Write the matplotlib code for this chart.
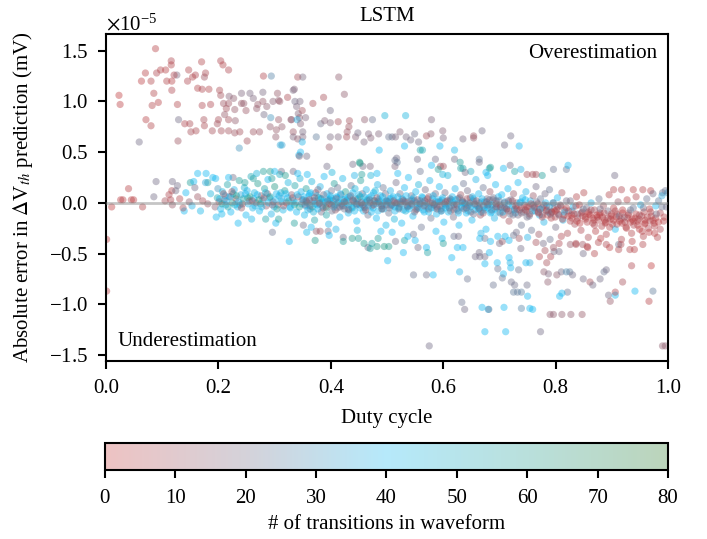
import numpy as np
import matplotlib
matplotlib.use("Agg")
import matplotlib.pyplot as plt
from matplotlib.colors import LinearSegmentedColormap, Normalize
from matplotlib.cm import ScalarMappable
from matplotlib.ticker import ScalarFormatter

plt.rcParams['font.family'] = ['Liberation Serif', 'DejaVu Serif']
plt.rcParams['mathtext.fontset'] = 'stix'
plt.rcParams['font.size'] = 15

# ---- data: (duty cycle, error [1e-5 mV], # transitions) ----
upper_pts = [
(0.023,1.06,2),(0.025,0.97,3),(0.070,1.28,4),(0.063,1.20,3),(0.080,1.20,5),(0.088,1.52,4),(0.090,1.28,6),(0.097,1.31,5),
(0.106,1.31,4),(0.116,1.40,6),(0.116,1.36,5),(0.108,1.20,5),(0.117,1.20,4),(0.117,1.11,6),(0.085,1.08,5),(0.093,0.99,4),
(0.082,0.96,5),(0.071,0.82,4),(0.080,0.76,5),(0.059,0.60,20),(0.126,1.26,18),(0.121,1.26,6),(0.147,1.31,5),(0.145,1.20,6),
(0.154,1.24,5),(0.159,1.26,6),(0.170,1.39,5),(0.177,1.28,7),(0.175,1.24,10),(0.204,1.40,6),(0.208,1.36,5),(0.218,1.31,6),
(0.163,1.13,5),(0.171,1.12,6),(0.183,1.12,5),(0.202,1.11,7),(0.127,0.97,5),(0.171,0.96,6),(0.186,0.97,6),(0.129,0.82,20),
(0.140,0.78,6),(0.149,0.78,7),(0.151,0.70,8),(0.160,0.71,7),(0.174,0.82,8),(0.175,0.76,7),(0.189,0.71,8),(0.128,0.61,10),
(0.200,0.82,8),(0.198,0.78,9),(0.204,1.06,9),(0.209,0.98,10),(0.214,0.93,9),(0.211,0.87,12),(0.218,0.98,10),(0.219,1.05,16),
(0.227,1.03,14),(0.229,0.92,12),(0.230,0.81,13),(0.218,0.82,9),(0.205,0.71,8),(0.218,0.71,9),(0.229,0.69,10),(0.238,0.70,9),
(0.251,0.61,9),(0.241,0.98,12),(0.245,0.98,13),(0.249,0.91,11),(0.241,1.08,18),(0.256,1.08,19),(0.262,1.03,18),(0.268,0.93,13),
(0.270,0.97,12),(0.279,1.09,19),(0.280,1.25,6),(0.294,1.25,26),(0.279,1.00,12),(0.286,0.95,14),(0.281,0.87,20),(0.293,0.84,30),
(0.305,1.08,12),(0.307,1.01,13),(0.297,1.00,15),(0.309,1.00,12),(0.262,0.70,10),(0.273,0.70,11),(0.292,0.75,13),(0.302,0.65,13),
(0.303,0.72,12),(0.307,0.82,11),(0.313,0.75,13),(0.310,0.57,35),(0.313,0.57,34),(0.237,0.54,30),(0.323,1.04,7),(0.333,1.11,19),
(0.341,1.24,8),(0.329,0.82,12),(0.333,0.70,11),(0.333,0.65,18),(0.341,0.63,14),(0.343,0.47,38),(0.339,0.95,18),(0.342,0.88,17),
]

mid_pts = [
(0.350,1.24,19),(0.414,1.24,14),(0.335,1.12,17),(0.336,1.00,20),(0.345,1.00,19),(0.368,0.98,8),(0.387,1.04,8),(0.424,1.07,14),
(0.349,0.91,9),(0.344,0.84,14),(0.330,0.82,15),(0.340,0.82,37),(0.355,0.84,18),(0.399,0.91,20),(0.346,0.78,16),(0.382,0.78,21),
(0.389,0.81,16),(0.399,0.79,17),(0.413,0.80,9),(0.433,0.81,9),(0.432,0.75,10),(0.429,0.70,11),(0.350,0.70,19),(0.350,0.65,18),
(0.374,0.65,24),(0.399,0.65,19),(0.413,0.65,18),(0.428,0.65,9),(0.349,0.60,38),(0.346,0.50,40),(0.344,0.46,16),(0.357,0.46,20),
(0.397,0.55,12),(0.444,0.65,16),(0.448,0.69,20),(0.460,0.82,14),(0.474,0.82,22),(0.467,0.68,18),(0.459,0.60,19),(0.471,0.64,16),
(0.485,0.68,17),(0.496,0.86,45),(0.533,0.86,44),(0.503,0.65,22),(0.509,0.65,22),(0.515,0.65,18),(0.523,0.70,16),(0.534,0.65,19),
(0.542,0.62,20),(0.549,0.68,21),(0.556,0.60,20),(0.531,0.56,40),(0.570,0.66,9),(0.578,0.68,14),(0.579,0.82,18),(0.599,0.71,16),
(0.600,0.64,18),(0.635,0.63,19),(0.654,0.66,10),(0.654,0.64,12),(0.669,0.71,20),(0.486,0.52,40),(0.559,0.52,55),(0.563,0.52,52),
(0.554,0.43,20),(0.594,0.56,40),(0.620,0.52,42),(0.620,0.43,20),(0.586,0.43,20),(0.517,0.44,20),(0.518,0.40,24),(0.514,0.36,18),
(0.579,0.37,40),(0.595,0.36,10),(0.600,0.36,10),(0.591,0.33,58),(0.630,0.40,58),(0.631,0.34,56),(0.635,0.34,55),(0.649,0.31,50),
(0.664,0.43,24),(0.664,0.40,20),(0.676,0.30,40),(0.682,0.34,55),(0.451,0.40,62),(0.457,0.36,20),(0.470,0.36,18),(0.439,0.38,20),
(0.393,0.36,20),(0.720,0.66,20),(0.709,0.57,20),(0.735,0.56,40),(0.684,0.35,58),(0.707,0.34,40),(0.719,0.37,20),(0.727,0.31,55),
(0.738,0.33,38),(0.749,0.28,8),(0.759,0.28,8),(0.765,0.28,9),(0.776,0.27,58),(0.796,0.33,22),(0.819,0.33,22),(0.822,0.37,40),
(0.905,0.27,20),(0.903,0.13,5),(0.917,0.13,6),(0.938,0.13,4),(0.955,0.13,5),(0.969,0.12,4),(0.990,0.10,22),(0.452,0.39,60),
(0.455,0.28,58),(0.514,0.42,22),(0.163,0.29,40),(0.178,0.29,40),(0.226,0.25,20),(0.089,0.21,20),(0.118,0.21,20),(0.127,0.17,20),
(0.150,0.20,58),(0.156,0.21,40),(0.195,0.24,40),(0.181,0.20,58),(0.262,0.24,58),(0.280,0.31,58),(0.292,0.31,60),(0.300,0.31,40),
(0.312,0.31,20),(0.333,0.31,20),(0.040,0.14,4),(0.026,0.03,3),(0.045,0.03,4),(0.117,0.12,5),(0.115,0.03,6),
]

lower_pts = [
(0.010,-0.04,2),(0.001,-0.36,2),(0.001,-0.87,3),(0.030,0.03,4),(0.049,0.03,3),(0.065,-0.04,5),(0.085,0.06,20),(0.139,-0.08,40),
(0.196,-0.14,40),(0.206,-0.11,41),(0.235,-0.20,40),(0.259,-0.16,42),(0.284,-0.16,55),(0.296,-0.29,22),(0.326,-0.38,40),(0.302,-0.20,40),
(0.307,-0.16,58),(0.335,-0.20,58),(0.351,-0.22,20),(0.357,-0.29,42),(0.372,-0.37,60),(0.374,-0.28,14),(0.381,-0.28,10),(0.395,-0.28,20),
(0.397,-0.32,40),(0.422,-0.34,20),(0.422,-0.38,58),(0.438,-0.35,60),(0.449,-0.35,58),(0.459,-0.40,60),(0.466,-0.44,22),(0.470,-0.45,56),
(0.473,-0.40,55),(0.482,-0.43,60),(0.484,-0.35,58),(0.495,-0.43,62),(0.503,-0.43,60),(0.501,-0.57,40),(0.515,-0.38,20),(0.529,-0.49,40),
(0.531,-0.37,55),(0.537,-0.33,40),(0.550,-0.37,40),(0.555,-0.44,20),(0.547,-0.71,22),(0.570,-0.44,40),(0.572,-0.49,56),(0.570,-0.71,21),
(0.582,-0.71,40),(0.575,-1.41,20),(0.598,-0.35,40),(0.600,-0.40,58),(0.615,-0.54,40),(0.619,-0.33,22),(0.625,-0.44,40),(0.635,-0.44,40),
(0.629,-0.68,38),(0.643,-0.75,22),(0.633,-0.98,22),(0.638,-1.05,20),(0.669,-1.03,40),(0.680,-1.05,40),(0.674,-1.27,40),(0.657,-0.53,20),
(0.665,-0.53,20),(0.674,-0.53,20),(0.674,-0.60,40),(0.664,-0.49,20),(0.665,-0.35,40),(0.682,-0.49,40),(0.689,-0.81,22),(0.681,-1.05,22),
(0.711,-1.27,40),(0.708,-1.03,40),(0.696,-0.59,40),(0.697,-0.65,22),(0.707,-0.70,40),(0.705,-0.74,22),(0.717,-0.54,40),(0.719,-0.59,38),
(0.720,-0.64,40),(0.721,-0.78,21),(0.725,-0.88,24),(0.732,-0.88,24),(0.739,-0.88,25),(0.727,-0.81,21),(0.749,-0.81,21),(0.750,-0.92,40),
(0.739,-1.04,26),(0.754,-1.04,40),(0.759,-1.05,40),(0.773,-1.27,20),(0.747,-0.59,40),(0.754,-0.59,36),(0.734,-0.66,22),(0.779,-0.68,14),
(0.784,-0.59,8),(0.787,-0.70,18),(0.786,-0.78,14),(0.802,-0.71,14),(0.810,-0.68,20),(0.819,-0.68,28),(0.825,-0.68,24),(0.830,-0.71,20),
(0.821,-0.88,22),(0.811,-0.89,40),(0.807,-0.92,40),(0.790,-1.10,14),(0.796,-1.10,14),(0.811,-1.10,14),(0.827,-1.10,14),(0.847,-1.10,12),
(0.771,-0.53,6),(0.791,-0.53,6),(0.781,-0.47,8),(0.797,-0.48,20),(0.806,-0.48,20),(0.849,-0.75,20),(0.861,-0.78,8),(0.866,-0.81,20),
(0.879,-0.75,20),(0.886,-0.68,22),(0.890,-0.66,20),(0.894,-0.91,20),(0.897,-0.97,12),(0.906,-0.91,40),(0.906,-0.88,6),(0.919,-0.78,8),
(0.941,-0.87,40),(0.935,-0.62,6),(0.970,-0.62,2),(0.973,-0.87,24),(0.966,-0.97,4),(0.990,-1.41,14),(0.995,-1.41,14),(0.869,-0.50,5),
(0.857,-0.44,6),(0.849,-0.50,20),(0.912,-0.46,5),(0.932,-0.46,5),(0.940,-0.46,4),(0.955,-0.41,5),(0.912,-0.41,22),(0.890,-0.41,6),
(0.880,-0.35,3),(0.848,-0.41,10),(0.836,-0.41,8),(0.826,-0.41,12),(0.806,-0.40,6),(0.796,-0.44,10),(0.778,-0.40,20),(0.765,-0.39,8),
(0.674,-0.35,22),(0.684,-0.38,40),(0.700,-0.40,20),(0.705,-0.38,12),(0.717,-0.37,40),(0.725,-0.32,22),(0.735,-0.35,10),(0.738,-0.45,20),
]

band_left = [
(0.105,0.02,8),(0.112,0.08,6),(0.118,-0.02,12),(0.124,0.12,20),(0.131,0.04,5),(0.137,-0.05,9),(0.142,0.10,40),(0.148,0.01,14),
(0.153,-0.03,38),(0.158,0.15,20),(0.163,0.06,10),(0.168,-0.08,42),(0.172,0.02,8),(0.177,0.20,35),(0.181,-0.01,12),(0.186,0.09,45),
(0.190,0.25,40),(0.194,-0.04,15),(0.198,0.05,55),(0.199,0.14,30),
(0.201,0.01,10),(0.204,-0.06,40),(0.207,0.11,45),(0.210,0.03,8),(0.213,-0.02,38),(0.216,0.18,55),(0.219,0.06,12),(0.222,-0.09,40),
(0.225,0.00,60),(0.228,0.13,38),(0.231,0.04,10),(0.234,-0.04,42),(0.237,0.22,58),(0.240,0.08,35),(0.243,-0.01,9),(0.246,0.15,48),
(0.249,-0.12,40),(0.252,0.05,62),(0.255,0.02,12),(0.258,0.26,52),(0.261,-0.05,38),(0.264,0.10,44),(0.267,0.00,8),(0.270,0.19,60),
(0.273,-0.08,40),(0.276,0.07,14),(0.279,0.03,36),(0.282,0.14,56),(0.285,-0.03,11),(0.288,0.23,40),(0.291,0.05,45),(0.294,-0.11,38),
(0.297,0.01,10),(0.300,0.16,62),(0.303,0.09,40),(0.306,-0.02,13),(0.309,0.28,50),(0.312,0.04,35),(0.315,-0.07,42),(0.318,0.12,58),
(0.321,0.00,9),(0.324,0.20,44),(0.327,-0.04,38),(0.330,0.08,15),(0.333,0.02,40),(0.336,0.17,55),(0.339,-0.09,40),(0.342,0.06,12),
(0.345,0.24,45),(0.348,-0.01,38),
(0.212,0.07,35),(0.226,0.09,50),(0.238,-0.02,45),(0.251,0.12,38),(0.263,0.04,40),(0.275,-0.01,55),(0.287,0.09,12),(0.299,-0.04,40),
(0.311,0.10,45),(0.323,0.05,40),(0.335,-0.02,60),(0.347,0.11,38),(0.218,0.25,40),(0.247,0.20,58),(0.268,0.29,45),(0.295,0.24,58),
(0.319,0.27,60),(0.341,0.29,40),
]

band_center = [
(0.351,0.03,40),(0.353,-0.12,42),(0.356,0.14,58),(0.358,0.00,12),(0.361,0.07,38),(0.363,-0.06,22),(0.366,0.21,45),(0.368,0.02,40),
(0.371,-0.17,55),(0.373,0.10,10),(0.376,-0.02,40),(0.378,0.05,60),(0.381,0.16,38),(0.383,-0.09,20),(0.386,0.01,45),(0.388,0.26,40),
(0.391,-0.04,8),(0.393,0.09,40),(0.396,-0.21,38),(0.398,0.03,55),(0.401,0.12,22),(0.403,-0.01,40),(0.406,0.19,58),(0.408,-0.07,12),
(0.411,0.05,40),(0.413,0.00,45),(0.416,-0.14,40),(0.418,0.08,20),(0.421,0.24,42),(0.423,-0.03,38),(0.426,0.11,60),(0.428,0.02,9),
(0.431,-0.10,40),(0.433,0.06,40),(0.436,0.17,22),(0.438,-0.05,55),(0.441,0.01,38),(0.443,0.14,45),(0.446,-0.18,40),(0.448,0.04,12),
(0.451,-0.02,40),(0.453,0.22,58),(0.456,0.09,20),(0.458,-0.08,40),(0.461,0.00,42),(0.463,0.13,38),(0.466,-0.12,22),(0.468,0.05,40),
(0.471,0.27,45),(0.473,-0.03,10),(0.476,0.10,40),(0.478,0.02,55),(0.481,-0.15,40),(0.483,0.18,38),(0.486,-0.01,20),(0.488,0.07,40),
(0.491,-0.06,45),(0.493,0.15,22),(0.496,0.00,40),(0.498,-0.22,42),
(0.355,-0.03,38),(0.362,0.09,40),(0.369,-0.09,45),(0.377,0.13,20),(0.384,0.04,40),(0.392,-0.12,55),(0.399,0.07,38),(0.405,-0.04,40),
(0.412,0.15,22),(0.419,-0.01,40),(0.425,0.04,45),(0.432,-0.07,20),(0.439,0.10,40),(0.445,-0.01,38),(0.452,0.06,60),(0.459,-0.04,40),
(0.465,0.02,22),(0.472,-0.09,40),(0.479,0.12,45),(0.485,0.03,40),(0.492,-0.03,38),(0.497,0.09,20),(0.358,0.28,40),(0.402,0.30,45),
(0.442,0.27,38),(0.482,0.29,40),(0.365,-0.24,40),(0.409,-0.26,38),(0.447,-0.27,45),(0.489,-0.28,40),
(0.501,0.02,40),(0.503,-0.10,22),(0.506,0.12,38),(0.508,-0.02,12),(0.511,0.06,40),(0.513,-0.16,45),(0.516,0.20,20),(0.518,0.00,40),
(0.521,-0.05,38),(0.523,0.09,22),(0.526,-0.20,40),(0.528,0.03,10),(0.531,0.15,40),(0.533,-0.08,45),(0.536,0.01,20),(0.538,0.25,40),
(0.541,-0.03,38),(0.543,0.07,22),(0.546,-0.13,40),(0.548,0.02,12),(0.551,0.11,40),(0.553,-0.06,20),(0.556,0.18,45),(0.558,-0.01,40),
(0.561,-0.24,22),(0.563,0.05,38),(0.566,-0.09,40),(0.568,0.13,20),(0.571,0.00,10),(0.573,-0.04,40),(0.576,0.22,38),(0.578,-0.15,22),
(0.581,0.04,40),(0.583,-0.02,45),(0.586,0.09,20),(0.588,-0.11,40),(0.591,0.01,12),(0.593,0.16,40),(0.596,-0.06,22),(0.598,0.03,38),
(0.601,-0.19,40),(0.603,0.10,20),(0.606,-0.03,40),(0.608,0.27,45),(0.611,0.02,22),(0.613,-0.08,12),(0.616,0.06,40),(0.618,-0.14,20),
(0.621,0.14,38),(0.623,-0.01,40),(0.626,0.04,22),(0.628,-0.22,40),(0.631,0.08,10),(0.633,-0.05,40),(0.636,0.19,22),(0.638,0.00,38),
(0.641,-0.10,40),(0.643,0.12,20),(0.646,-0.02,45),(0.648,0.05,12),(0.651,-0.17,40),(0.653,0.02,22),(0.656,-0.07,40),(0.658,0.23,38),
(0.661,-0.03,20),(0.663,0.09,40),(0.666,-0.12,10),(0.668,0.01,40),(0.671,0.15,22),(0.673,-0.05,38),(0.676,-0.26,40),(0.678,0.04,20),
(0.681,-0.01,40),(0.683,0.11,12),(0.686,-0.09,40),(0.688,0.03,22),(0.691,-0.15,38),(0.693,0.18,40),(0.696,-0.04,20),(0.698,0.06,40),
(0.505,0.04,38),(0.514,-0.04,40),(0.524,0.01,20),(0.534,-0.02,40),(0.544,0.03,38),(0.554,-0.04,22),(0.564,0.00,40),(0.574,0.06,12),
(0.584,-0.05,40),(0.594,0.01,20),(0.604,-0.02,40),(0.614,0.03,38),(0.624,-0.06,22),(0.634,0.00,40),(0.644,-0.03,12),(0.654,0.04,40),
(0.664,-0.05,20),(0.674,0.01,40),(0.684,-0.03,38),(0.694,0.02,22),(0.509,-0.29,40),(0.547,-0.31,22),(0.587,-0.28,40),(0.627,-0.33,20),
(0.667,-0.30,38),(0.697,-0.33,40),(0.519,0.29,40),(0.559,0.31,22),(0.599,0.28,45),(0.639,0.30,20),(0.679,0.27,40),
]

band_right = [
(0.701,-0.02,22),(0.704,0.08,40),(0.707,-0.12,10),(0.709,0.01,38),(0.712,-0.06,20),(0.715,0.14,40),(0.717,-0.18,8),(0.720,0.03,22),
(0.723,-0.03,40),(0.725,0.09,12),(0.728,-0.10,38),(0.731,0.00,20),(0.733,0.20,40),(0.736,-0.07,6),(0.739,-0.22,22),(0.741,0.05,40),
(0.744,-0.02,10),(0.747,0.11,38),(0.749,-0.14,20),(0.752,-0.04,8),(0.755,0.02,40),(0.757,-0.27,22),(0.760,0.07,12),(0.763,-0.08,38),
(0.765,0.16,20),(0.768,-0.01,6),(0.771,-0.12,40),(0.773,0.04,22),(0.776,-0.05,9),(0.779,-0.19,38),(0.781,0.09,20),(0.784,-0.03,7),
(0.787,-0.09,40),(0.789,0.13,22),(0.792,-0.15,5),(0.795,0.00,38),(0.797,-0.06,12),(0.800,-0.24,20),(0.803,0.05,40),(0.805,-0.11,6),
(0.808,-0.02,22),(0.811,0.10,8),(0.813,-0.17,38),(0.816,-0.07,5),(0.819,0.02,20),(0.821,-0.30,7),
(0.705,-0.05,40),(0.716,0.02,20),(0.727,-0.06,12),(0.738,0.01,38),(0.749,-0.08,8),(0.760,-0.02,22),(0.771,-0.06,10),(0.782,0.00,40),
(0.793,-0.09,6),(0.804,-0.04,20),(0.815,-0.12,8),(0.710,-0.33,40),(0.730,-0.29,20),(0.750,-0.34,38),(0.770,-0.31,10),(0.790,-0.36,22),
(0.810,-0.33,6),
(0.823,-0.08,6),(0.826,0.02,20),(0.829,-0.15,4),(0.831,-0.04,40),(0.834,-0.21,8),(0.837,0.06,5),(0.839,-0.11,22),(0.842,-0.02,3),
(0.845,-0.27,6),(0.847,-0.09,12),(0.850,0.10,5),(0.853,-0.16,4),(0.855,-0.05,20),(0.858,-0.34,7),(0.861,-0.12,3),(0.863,0.00,38),
(0.866,-0.20,5),(0.869,-0.07,9),(0.871,-0.28,4),(0.874,-0.14,6),(0.877,0.04,22),(0.879,-0.10,3),(0.882,-0.23,5),(0.885,-0.03,10),
(0.887,-0.17,4),(0.890,-0.31,6),(0.893,-0.08,20),(0.895,0.08,5),(0.898,-0.13,3),(0.901,-0.21,8),(0.903,-0.05,4),(0.906,-0.26,40),
(0.909,-0.11,5),(0.911,0.01,12),(0.914,-0.18,4),(0.917,-0.36,6),(0.919,-0.07,3),(0.922,-0.14,20),(0.925,-0.24,5),(0.927,0.03,4),
(0.930,-0.10,8),(0.933,-0.19,3),(0.935,-0.30,5),(0.938,-0.05,22),(0.941,-0.15,4),(0.943,0.06,6),(0.946,-0.22,3),(0.949,-0.12,10),
(0.951,-0.02,40),(0.954,-0.28,4),(0.957,-0.09,5),(0.959,-0.17,3),(0.962,0.04,22),(0.965,-0.25,6),(0.967,-0.06,4),(0.970,-0.13,5),
(0.973,0.09,20),(0.975,-0.20,3),(0.978,-0.03,40),(0.981,-0.34,5),(0.983,0.02,24),(0.986,-0.10,6),(0.989,0.07,35),(0.992,-0.18,4),
(0.995,0.12,22),(0.997,-0.04,20),(0.999,0.10,30),
(0.828,-0.12,5),(0.838,-0.18,3),(0.848,-0.13,6),(0.858,-0.09,4),(0.868,-0.17,5),(0.878,-0.12,3),(0.888,-0.20,6),(0.898,-0.16,4),
(0.908,-0.14,5),(0.918,-0.20,3),(0.928,-0.15,6),(0.938,-0.18,4),(0.948,-0.16,5),(0.958,-0.21,3),(0.968,-0.18,6),(0.978,-0.15,4),
(0.836,-0.40,6),(0.856,-0.43,4),(0.876,-0.39,5),(0.896,-0.44,3),(0.916,-0.41,6),(0.936,-0.38,4),(0.956,-0.33,5),(0.976,-0.30,3),
]

band_core_left = [
(0.202,0.04,42),(0.206,-0.01,58),(0.209,0.09,12),(0.214,0.02,40),(0.217,-0.04,55),(0.221,0.06,38),(0.224,0.11,10),(0.229,-0.02,45),
(0.232,0.07,60),(0.236,0.01,40),(0.241,-0.05,12),(0.244,0.04,55),(0.248,0.09,40),(0.253,-0.01,38),(0.256,0.06,58),(0.260,0.02,10),
(0.265,-0.03,42),(0.269,0.08,40),(0.272,0.03,60),(0.277,-0.04,38),(0.281,0.05,12),(0.284,0.10,45),(0.289,0.00,40),(0.292,0.06,55),
(0.296,-0.02,14),(0.301,0.03,40),(0.304,-0.06,58),(0.308,0.07,38),(0.313,0.01,42),(0.316,-0.03,10),(0.320,0.09,40),(0.325,0.02,55),
(0.328,-0.05,40),(0.332,0.05,12),(0.337,0.00,45),(0.340,0.08,40),(0.344,-0.04,58),(0.349,0.03,20),
(0.352,0.06,40),(0.354,-0.02,20),(0.357,0.01,45),(0.359,-0.07,40),(0.362,0.03,12),(0.364,0.10,40),(0.367,-0.04,55),(0.370,0.02,22),
(0.372,-0.01,40),(0.375,0.07,38),(0.377,-0.06,40),(0.380,0.00,10),(0.382,0.04,45),(0.385,-0.03,40),(0.387,0.08,20),(0.390,0.01,40),
(0.392,-0.05,58),(0.395,0.03,38),(0.397,-0.01,12),(0.400,0.05,40),(0.402,-0.08,22),(0.404,0.02,40),(0.407,-0.02,45),(0.410,0.06,40),
(0.412,-0.05,20),(0.415,0.01,38),(0.417,0.09,40),(0.420,-0.03,10),(0.422,0.03,40),(0.424,-0.06,22),(0.427,0.00,45),(0.430,0.05,40),
(0.432,-0.02,38),(0.435,0.07,20),(0.437,-0.04,40),(0.440,0.02,12),(0.442,-0.08,40),(0.444,0.04,45),(0.447,-0.01,22),(0.450,0.08,40),
(0.452,-0.05,38),(0.455,0.01,40),(0.457,-0.02,20),(0.460,0.06,40),(0.462,-0.07,10),(0.464,0.03,45),(0.467,-0.03,40),(0.470,0.00,22),
(0.472,0.07,38),(0.475,-0.05,40),(0.477,0.02,20),(0.480,-0.01,40),(0.482,0.05,12),(0.484,-0.08,40),(0.487,0.01,45),(0.490,-0.03,22),
(0.492,0.06,40),(0.494,-0.06,38),(0.497,0.02,40),(0.499,-0.02,20),
]

band_core_mid = [
(0.502,0.01,40),(0.504,-0.05,22),(0.507,0.05,38),(0.509,-0.02,40),(0.512,0.02,12),(0.514,-0.08,40),(0.517,0.00,20),(0.519,0.06,40),
(0.522,-0.04,45),(0.524,-0.01,22),(0.527,0.04,40),(0.529,-0.07,38),(0.532,0.01,20),(0.534,0.07,40),(0.537,-0.03,10),(0.539,-0.06,40),
(0.542,0.02,22),(0.544,-0.02,40),(0.547,0.05,38),(0.549,-0.09,20),(0.552,0.00,40),(0.554,0.03,12),(0.557,-0.05,40),(0.559,-0.01,22),
(0.562,0.06,40),(0.564,-0.07,38),(0.567,0.02,20),(0.569,-0.03,40),(0.572,0.04,10),(0.574,-0.09,40),(0.577,0.00,22),(0.579,-0.05,40),
(0.582,0.07,38),(0.584,-0.02,20),(0.587,0.01,40),(0.589,-0.06,12),(0.592,0.03,40),(0.594,-0.03,22),(0.597,-0.08,40),(0.599,0.05,38),
(0.602,-0.01,20),(0.604,-0.05,40),(0.607,0.02,10),(0.609,-0.09,40),(0.612,0.04,22),(0.614,-0.03,40),(0.617,0.00,38),(0.619,-0.07,20),
(0.622,0.03,40),(0.624,-0.02,12),(0.627,-0.10,40),(0.629,0.05,22),(0.632,-0.04,40),(0.634,0.01,38),(0.637,-0.06,20),(0.639,-0.01,40),
(0.642,0.04,10),(0.644,-0.08,40),(0.647,0.00,22),(0.649,-0.04,40),(0.652,0.06,38),(0.654,-0.11,20),(0.657,-0.02,40),(0.659,0.02,12),
(0.662,-0.06,40),(0.664,0.00,22),(0.667,-0.09,40),(0.669,0.04,38),(0.672,-0.03,20),(0.674,-0.07,40),(0.677,0.01,10),(0.679,-0.05,40),
(0.682,0.03,22),(0.684,-0.10,40),(0.687,-0.02,38),(0.689,0.05,20),(0.692,-0.06,40),(0.694,-0.01,12),(0.697,-0.09,40),(0.699,0.02,22),
]

band_core_right = [
(0.702,-0.04,12),(0.706,-0.09,40),(0.709,0.00,20),(0.713,-0.06,8),(0.716,-0.02,38),(0.719,-0.11,22),(0.723,0.02,10),(0.726,-0.07,40),
(0.729,-0.03,6),(0.733,-0.12,20),(0.736,0.00,38),(0.739,-0.05,9),(0.743,-0.09,22),(0.746,0.03,40),(0.749,-0.04,7),(0.753,-0.13,20),
(0.756,-0.01,10),(0.759,-0.08,38),(0.763,-0.04,6),(0.766,0.01,22),(0.769,-0.10,8),(0.773,-0.06,40),(0.776,-0.14,5),(0.779,-0.02,20),
(0.783,-0.08,9),(0.786,-0.12,6),(0.789,-0.04,38),(0.793,-0.09,4),(0.796,0.00,22),(0.799,-0.14,7),
(0.802,-0.07,5),(0.806,-0.12,20),(0.809,-0.03,6),(0.812,-0.16,4),(0.816,-0.09,38),(0.819,-0.05,7),(0.822,-0.13,3),(0.826,-0.18,6),
(0.829,-0.08,20),(0.833,-0.11,4),(0.836,-0.03,5),(0.839,-0.15,8),(0.843,-0.20,3),(0.846,-0.10,6),(0.849,-0.06,22),(0.853,-0.14,4),
(0.856,-0.19,5),(0.859,-0.11,3),(0.863,-0.07,10),(0.866,-0.15,4),(0.869,-0.22,6),(0.873,-0.12,3),(0.876,-0.17,5),(0.879,-0.06,20),
(0.883,-0.14,4),(0.886,-0.10,6),(0.889,-0.19,3),(0.893,-0.15,8),(0.896,-0.24,4),(0.899,-0.11,5),
(0.903,-0.17,3),(0.906,-0.08,6),(0.909,-0.21,4),(0.913,-0.13,20),(0.916,-0.16,5),(0.919,-0.10,3),(0.923,-0.19,6),(0.926,-0.25,4),
(0.929,-0.12,5),(0.933,-0.07,22),(0.936,-0.16,3),(0.939,-0.22,6),(0.943,-0.11,4),(0.946,-0.18,5),(0.949,-0.26,3),(0.953,-0.13,6),
(0.956,-0.05,20),(0.959,-0.20,4),(0.963,-0.14,5),(0.966,-0.29,3),(0.969,-0.09,6),(0.973,-0.17,4),(0.976,-0.23,5),(0.979,-0.11,20),
(0.983,-0.19,3),(0.986,-0.26,6),(0.989,-0.04,22),(0.993,-0.14,4),
]

band_core_extra = [
(0.356,0.02,18),(0.363,-0.03,25),(0.371,0.05,14),(0.379,-0.01,22),(0.386,-0.05,16),(0.394,0.02,26),(0.401,-0.02,12),(0.409,0.04,20),
(0.416,-0.04,24),(0.424,0.01,15),(0.431,-0.06,22),(0.439,0.03,18),(0.446,-0.02,26),(0.454,0.00,14),(0.461,-0.05,20),(0.469,0.03,24),
(0.476,-0.02,16),(0.484,0.01,22),(0.491,-0.06,12),(0.499,0.02,20),(0.506,-0.03,25),(0.514,0.00,15),(0.521,-0.06,22),(0.529,0.02,18),
(0.536,-0.04,26),(0.544,-0.01,14),(0.551,-0.07,20),(0.559,0.02,24),(0.566,-0.03,16),(0.574,-0.06,22),(0.581,0.00,12),(0.589,-0.04,20),
(0.596,-0.08,25),(0.604,0.01,15),(0.611,-0.05,22),(0.619,-0.02,18),(0.626,-0.08,26),(0.634,0.02,14),(0.641,-0.05,20),(0.649,-0.09,24),
(0.656,-0.01,16),(0.664,-0.06,22),(0.671,-0.10,12),(0.679,-0.02,20),(0.686,-0.07,25),(0.694,-0.04,15),(0.701,-0.10,22),(0.709,-0.05,18),
(0.716,-0.08,14),(0.724,-0.12,20),(0.731,-0.06,10),(0.739,-0.10,16),(0.746,-0.07,8),(0.754,-0.11,12),(0.761,-0.05,20),(0.769,-0.09,6),
(0.776,-0.12,14),(0.784,-0.07,9),(0.791,-0.11,18),(0.799,-0.08,5),
]

x_ticks = [0.0, 0.2, 0.4, 0.6, 0.8, 1.0]
y_ticks = [-1.5e-5, -1.0e-5, -0.5e-5, 0.0, 0.5e-5, 1.0e-5, 1.5e-5]
cbar_ticks = [0, 10, 20, 30, 40, 50, 60, 70, 80]

groups = [upper_pts, mid_pts, lower_pts, band_left, band_center, band_right,
          band_core_left, band_core_mid, band_core_right, band_core_extra]
arr = np.array([p for g in groups for p in g], dtype=float)
duty = arr[:, 0]
err = arr[:, 1] * 1e-5
trans = arr[:, 2]

base = [(0.0, (0.78, 0.22, 0.22)), (0.25, (0.45, 0.42, 0.52)), (0.5, (0.05, 0.72, 0.95)),
        (0.75, (0.10, 0.60, 0.55)), (1.0, (0.12, 0.45, 0.12))]
cmap_pts = LinearSegmentedColormap.from_list("trans_pts", [(p, (*c, 0.42)) for p, c in base])
cmap_bar = LinearSegmentedColormap.from_list("trans_bar", [(p, (*c, 0.3)) for p, c in base])
norm = Normalize(0, 80)

fig = plt.figure(figsize=(7.07, 5.39), dpi=100)
ax = fig.add_axes([0.150, 0.330, 0.795, 0.607])
ax.scatter(duty, err, c=trans, cmap=cmap_pts, norm=norm, s=27, edgecolors='none')
ax.axhline(0, color='gray', alpha=0.45, lw=2, zorder=3)
ax.set_xlim(0, 1)
ax.set_ylim(-1.56e-5, 1.665e-5)
ax.set_xticks(x_ticks)
ax.set_yticks(y_ticks)
fmt = ScalarFormatter(useMathText=True)
fmt.set_powerlimits((0, 0))
ax.yaxis.set_major_formatter(fmt)
ax.set_xlabel("Duty cycle", labelpad=8)
ax.set_ylabel(r"Absolute error in $\Delta$V$_{th}$ prediction (mV)", labelpad=10)
ax.set_title("LSTM", fontsize=15, pad=9)
ax.text(0.98, 0.97, "Overestimation", transform=ax.transAxes, ha='right', va='top')
ax.text(0.02, 0.03, "Underestimation", transform=ax.transAxes, ha='left', va='bottom')
for sp in ax.spines.values():
    sp.set_linewidth(1.5)
ax.tick_params(width=1.5, length=6, pad=7)

cax = fig.add_axes([0.148, 0.128, 0.797, 0.050])
sm = ScalarMappable(norm=norm, cmap=cmap_bar)
cb = fig.colorbar(sm, cax=cax, orientation='horizontal')
cb.set_ticks(cbar_ticks)
cb.set_label("# of transitions in waveform", labelpad=5)
cb.outline.set_linewidth(1.5)
cax.tick_params(width=1.5, length=6, pad=8)

fig.savefig("out.png", dpi=100)
